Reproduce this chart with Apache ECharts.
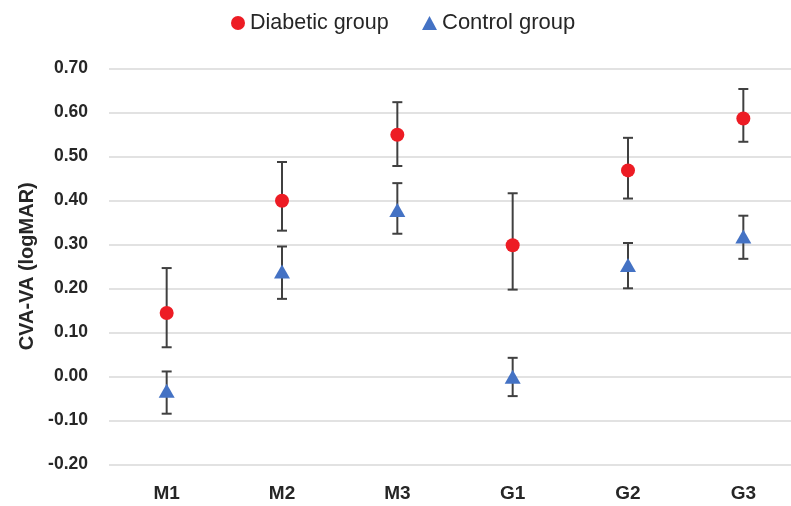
<!DOCTYPE html>
<html>
<head>
<meta charset="utf-8">
<script src="https://cdn.jsdelivr.net/npm/echarts@6/dist/echarts.min.js"></script>
<style>
html,body{margin:0;padding:0;background:#fff;}
#chart{width:791px;height:506px;}
</style>
</head>
<body>
<div id="chart"></div>
<script>
const categories = ['M1', 'M2', 'M3', 'G1', 'G2', 'G3'];
const diabeticMean = [0.144, 0.399, 0.549, 0.298, 0.468, 0.586];
const diabeticLow  = [0.066, 0.331, 0.478, 0.197, 0.404, 0.533];
const diabeticHigh = [0.246, 0.487, 0.623, 0.416, 0.542, 0.653];
const controlMean  = [-0.033, 0.238, 0.378, -0.001, 0.253, 0.318];
const controlLow   = [-0.085, 0.176, 0.324, -0.045, 0.200, 0.267];
const controlHigh  = [0.011, 0.295, 0.439, 0.042, 0.303, 0.365];
const yMin = -0.2, yMax = 0.7, yStep = 0.1;

const FONT = '"Liberation Sans", Arial, sans-serif';
const TEXT = '#262626';

function errData(low, high) {
  return categories.map((c, i) => [i, low[i], high[i]]);
}
function renderErr(params, api) {
  const x = api.value(0);
  const lo = api.coord([x, api.value(1)]);
  const hi = api.coord([x, api.value(2)]);
  const hw = 5;
  const style = { stroke: '#404040', lineWidth: 2 };
  return {
    type: 'group',
    children: [
      { type: 'line', shape: { x1: lo[0], y1: lo[1], x2: hi[0], y2: hi[1] }, style },
      { type: 'line', shape: { x1: hi[0] - hw, y1: hi[1], x2: hi[0] + hw, y2: hi[1] }, style },
      { type: 'line', shape: { x1: lo[0] - hw, y1: lo[1], x2: lo[0] + hw, y2: lo[1] }, style }
    ]
  };
}

const chart = echarts.init(document.getElementById('chart'), null, { renderer: 'canvas' });
chart.setOption({
  animation: false,
  backgroundColor: '#fff',
  legend: [
    {
      left: 231, top: 12, padding: 0,
      itemWidth: 14, itemHeight: 14,
      textStyle: { fontFamily: FONT, fontSize: 21.5, color: TEXT },
      data: [{ name: 'Diabetic group', icon: 'circle' }]
    },
    {
      left: 422, top: 12, padding: 0,
      itemWidth: 15, itemHeight: 14,
      textStyle: { fontFamily: FONT, fontSize: 22, color: TEXT },
      data: [{ name: 'Control group', icon: 'triangle' }]
    }
  ],
  grid: { left: 109, top: 68.3, width: 692, height: 396, outerBoundsMode: 'none', containLabel: false },
  xAxis: {
    type: 'category',
    data: categories,
    axisLine: { show: false },
    axisTick: { show: false },
    axisLabel: { fontFamily: FONT, fontSize: 19, fontWeight: 'bold', color: TEXT, margin: 20 }
  },
  yAxis: {
    type: 'value',
    min: yMin, max: yMax, interval: yStep,
    name: 'CVA-VA (logMAR)',
    nameLocation: 'middle',
    nameGap: 72,
    nameTextStyle: { fontFamily: FONT, fontSize: 20, fontWeight: 'bold', color: TEXT },
    axisLine: { show: false },
    axisTick: { show: false },
    axisLabel: {
      fontFamily: FONT, fontSize: 17.5, fontWeight: 'bold', color: TEXT, margin: 21,
      formatter: v => v.toFixed(2)
    },
    splitLine: { show: true, lineStyle: { color: '#d9d9d9', width: 1.5 } }
  },
  series: [
    { type: 'custom', name: 'derr', renderItem: renderErr, data: errData(diabeticLow, diabeticHigh), z: 1, silent: true },
    { type: 'custom', name: 'cerr', renderItem: renderErr, data: errData(controlLow, controlHigh), z: 1, silent: true },
    {
      type: 'scatter', name: 'Diabetic group', symbol: 'circle', symbolSize: 14,
      itemStyle: { color: '#ed1c24', opacity: 1 }, data: diabeticMean, z: 3
    },
    {
      type: 'scatter', name: 'Control group', symbol: 'triangle', symbolSize: [16, 14],
      itemStyle: { color: '#4472c4', opacity: 1 }, data: controlMean, z: 3
    }
  ]
});
</script>
</body>
</html>
